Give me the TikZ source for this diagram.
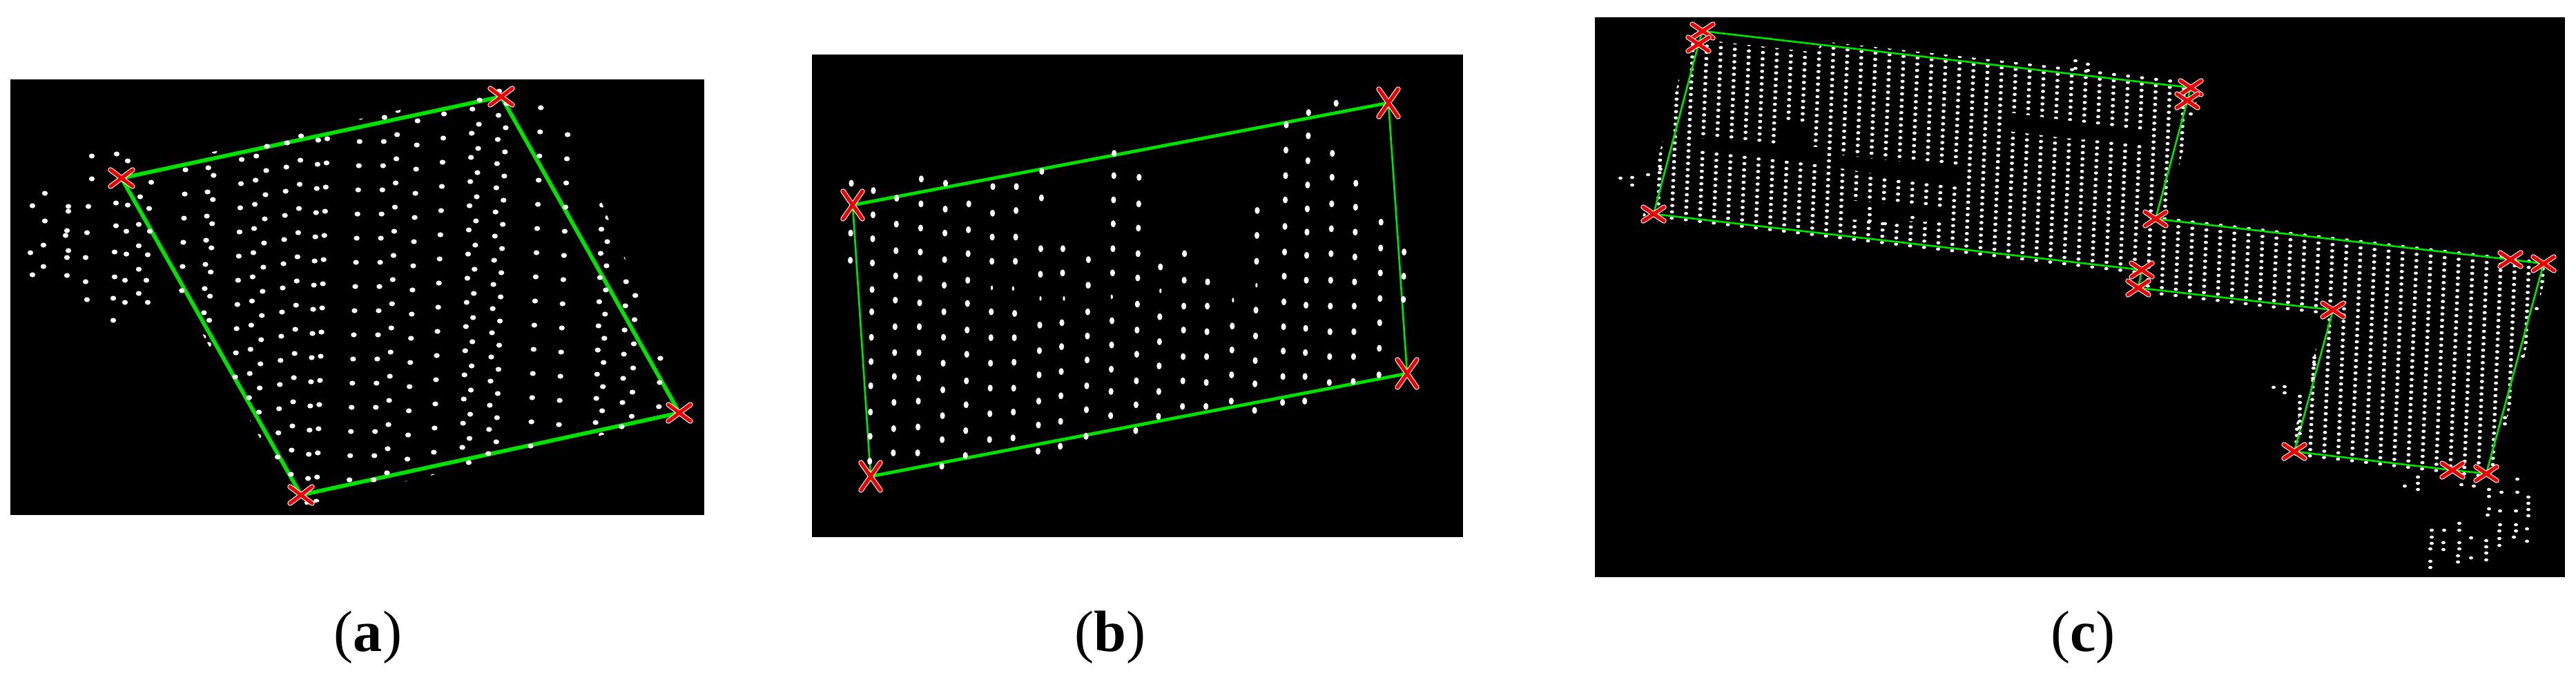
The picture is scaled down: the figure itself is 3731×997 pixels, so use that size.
\documentclass[tikz,border=0pt]{standalone}
\usepackage{fontspec}
\setmainfont{Liberation Serif}
\definecolor{gr}{RGB}{0,225,0}
\definecolor{xr}{RGB}{235,0,0}
\tikzset{
  panel/.style={fill=black},
  dotw/.style={fill=white},
  gthick/.style={draw=gr, line width=0.58mm, line join=round},
  gmid/.style={draw=gr, line width=0.48mm, line join=round},
  gthin/.style={draw=gr, line width=0.27mm, line join=round},
  hole/.style={fill=black},
  captext/.style={font=\fontsize{24}{28}\selectfont, anchor=base, inner sep=0pt},
  pics/xm/.style 2 args={code={
    \draw[white, line width=0.74mm, line cap=round] (-#1,-#2) -- (#1,#2) (-#1,#2) -- (#1,-#2);
    \draw[xr, line width=0.52mm, line cap=round] (-#1,-#2) -- (#1,#2) (-#1,#2) -- (#1,-#2);
  }}
}
\begin{document}
\begin{tikzpicture}[x=0.1mm,y=-0.1mm]
\useasboundingbox (0,0) rectangle (3731,997);
\fill[white] (0,0) rectangle (3731,997);

% ================= panel (a) =================
\fill[panel] (15,115) rectangle (1020,746);
\coordinate (a1) at (176,258);
\coordinate (a2) at (726,140);
\coordinate (a3) at (984,598);
\coordinate (a4) at (436,717);
\draw[gthick] (a1) -- (a2) -- (a3) -- (a4) -- cycle;
\begin{scope}
\clip (165,252) -- (728,126) -- (805,135) -- (1000,600) -- (440,732) -- (425,722) -- cycle;
\foreach \cx/\ph in {264/21, 297/18, 305/29, 345/6, 366/1, 381/22, 410/17, 430/7, 455/13, 468/11, 515/15, 550/15, 569/5, 598/20, 636/10, 677/3, 687/25, 715/12, 726/30, 776/1, 816/5, 869/2, 878/20, 907/8, 921/28, 960/14}{
  \foreach \k in {0,...,17}{
    \fill[dotw] ({\cx-0.03*(120+\ph+35*\k-400)},{120+\ph+35*\k}) ellipse[x radius=0.42mm, y radius=0.36mm];
  }
}
\end{scope}
\foreach \px/\py in {133/226, 169/223, 185/233, 133/259, 65/280, 47/298, 99/299, 99/306, 128/299, 168/294, 185/297,
  65/320, 97/334, 95/341, 126/337, 168/327, 183/335, 217/335, 63/355, 44/366, 99/363, 97/373, 124/373, 166/365,
  183/368, 214/369, 63/386, 47/398, 97/399, 124/408, 166/401, 181/406, 212/406, 201/390, 201/356, 201/325,
  126/434, 164/432, 181/438, 201/425, 214/438, 164/464, 219/264, 203/285, 216/302}{
  \fill[dotw] (\px,\py) ellipse[x radius=0.42mm, y radius=0.36mm];
}
\pic at (a1) {xm={16}{12}};
\pic at (a2) {xm={16}{12}};
\pic at (a3) {xm={16}{12}};
\pic at (a4) {xm={16}{12}};
\node[captext] (capa) at (533,943) {(\textbf{a})};

% ================= panel (b) =================
\fill[panel] (1176,79) rectangle (2119,778);
\coordinate (b1) at (1235,297);
\coordinate (b2) at (2011,149);
\coordinate (b3) at (2038,541);
\coordinate (b4) at (1261,690);
\draw[gmid] (b1) -- (b2);
\draw[gmid] (b3) -- (b4);
\draw[gthin] (b2) -- (b3);
\draw[gthin] (b4) -- (b1);
\begin{scope}[xshift=115mm, yshift=-5mm, x=0.0641mm, y=-0.0481mm]
\foreach \cx/\ys in {
  127/{448,598,680},
  177/{470,543,615,688,768,835,912,985,1058,1137,1210,1285},
  230/{493,571,651,727,800,880,958,1030,1108,1187,1260},
  285/{435,510,583,655,735,808,880,958,1035,1104,1182,1260},
  340/{448,526,598,678,755,835,912,990,1070,1148,1220,1300},
  393/{510,588,660,740,810,890,963,1043,1115,1193,1268},
  447/{458,538,610,683,835,913,990,1065,1142,1220},
  500/{458,530,610,683,840,913,987,1065,1137,1215},
  557/{412,492,645,722,875,952,1025,1104,1176,1255},
  607/{645,718,868,940,1015,1088,1165,1240},
  665/{678,755,835,908,980,1058,1130,1210},
  720/{358,425,498,570,645,718,862,935,1008,1075,1148},
  777/{430,510,583,660,733,812,890,963,1043,1115,1193},
  828/{700,850,925,998,1075,1150},
  882/{660,740,818,890,970,1043,1120},
  935/{745,818,895,970,1048,1120},
  992/{878,950,1025,1104},
  1045/{530,605,683,830,908,982,1052,1132},
  1108/{272,348,425,498,578,655,728,805,880,953,1030,1108},
  1158/{235,305,380,453,525,595,665,740,815,885,958,1030,1104},
  1213/{358,430,510,585,660,740,818,895,970,1048},
  1220/{207},
  1267/{448,520,595,670,745,818,895,970,1045},
  1325/{565,643,718,795,868,945,1025},
  1378/{655,728,798}}{
  \foreach \yy in \ys {
    \fill[dotw] ({\cx-0.01*(\yy-700)},\yy) ellipse[x radius=0.36mm, y radius=0.5mm];
  }
}
\foreach \px/\py in {447/763, 495/765, 557/795, 610/795, 668/755, 718/790, 828/772, 992/800, 1045/755}{
  \fill[dotw] (\px,\py) ellipse[x radius=0.16mm, y radius=0.34mm];
}
\end{scope}
\pic at (b1) {xm={14}{20}};
\pic at (b2) {xm={14}{20}};
\pic at (b3) {xm={14}{20}};
\pic at (b4) {xm={14}{20}};
\node[captext] (capb) at (1608,943) {(\textbf{b})};

% ================= panel (c) =================
\fill[panel] (2310,25) rectangle (3715,836);
\coordinate (c1) at (2466,45);
\coordinate (c2) at (2460,64);
\coordinate (c3) at (2395,310);
\coordinate (c4) at (3173,127);
\coordinate (c5) at (3168,146);
\coordinate (c6) at (3122,317);
\coordinate (c7) at (3102,391);
\coordinate (c8) at (3097,417);
\coordinate (c9) at (3379,449);
\coordinate (c10) at (3636,376);
\coordinate (c11) at (3684,382);
\coordinate (c12) at (3323,654);
\coordinate (c13) at (3552,681);
\coordinate (c14) at (3601,686);
\begin{scope}
\clip (2446,60) -- (2470,58) -- (2630,76) -- (2640,60) -- (3180,118) -- (3182,146) -- (3136,312)
  -- (3640,369) -- (3694,376) -- (3608,692) -- (3314,661) -- (3367,455) -- (3095,426) -- (3096,400)
  -- (2378,318) -- cycle;
\foreach \i in {0,...,38}{
  \foreach \j in {0,...,41}{
    \fill[dotw] ({2392+20.3*\i-0.363*\j},{30+9.07*\j+2.36*\i}) ellipse[x radius=0.3mm, y radius=0.23mm];
  }
}
\foreach \i in {39,...,64}{
  \foreach \j in {0,...,75}{
    \fill[dotw] ({2392+20.3*\i-0.363*\j},{30+9.07*\j+2.36*\i}) ellipse[x radius=0.3mm, y radius=0.23mm];
  }
}
\end{scope}
% holes in the dot field
\fill[hole] (2458,200) -- (2578,209) -- (2581,176) -- (2620,180) -- (2622,212) -- (2640,214) -- (2640,239) -- (2458,216) -- cycle;
\fill[hole] (2660,224) -- (2845,244) -- (2845,272) -- (2660,243) -- cycle;
\fill[hole] (2678,290) -- (2815,303) -- (2815,322) -- (2678,318) -- cycle;
\fill[hole] (2910,163) -- (2990,174) -- (3105,189) -- (3105,208) -- (2990,200) -- (2910,190) -- cycle;
\foreach \px/\py in {2708/302, 2708/311, 2708/320, 2730/324, 2770/315}{
  \fill[dotw] (\px,\py) ellipse[x radius=0.3mm, y radius=0.23mm];
}
\draw[gthin] (c1) -- (c4) -- (c5) -- (c6) -- (c10) -- (c11) -- (c14) -- (c13) -- (c12) -- (c9) -- (c8) -- (c7) -- (c3) -- (c2) -- cycle;
% outlying dots
\foreach \px/\py in {2347/258, 2364/257, 2364/268, 2387/253, 2405/245,
  3006/88, 3024/93, 3006/99, 3024/102, 3173/165,
  3293/561, 3309/560, 3309/569, 3331/574, 3331/583, 3331/592, 3331/601, 3331/610, 3331/619, 3331/628,
  3352/518, 3352/528, 3350/548, 3674/447, 3654/516, 3628/605, 3628/614,
  3502/691, 3483/704, 3502/700, 3502/709, 3565/702, 3583/704, 3605/709, 3605/719, 3623/713, 3646/694,
  3646/713, 3662/720, 3662/729, 3662/738, 3662/747, 3605/737, 3603/746, 3621/740, 3644/740,
  3621/760, 3644/760, 3620/769, 3644/769, 3660/766, 3641/778, 3620/780, 3660/784, 3620/790,
  3562/758, 3562/768, 3562/786, 3562/795, 3560/805, 3560/814, 3579/779, 3579/808,
  3601/783, 3601/792, 3601/801, 3601/811, 3522/768, 3540/768, 3522/778, 3522/787, 3520/795,
  3539/786, 3539/796, 3520/813, 3520/822}{
  \fill[dotw] (\px,\py) ellipse[x radius=0.3mm, y radius=0.23mm];
}
\foreach \n in {1,...,14}{
  \pic at (c\n) {xm={15}{10}};
}
\node[captext] (capc) at (3017,943) {(\textbf{c})};
\end{tikzpicture}
\end{document}
